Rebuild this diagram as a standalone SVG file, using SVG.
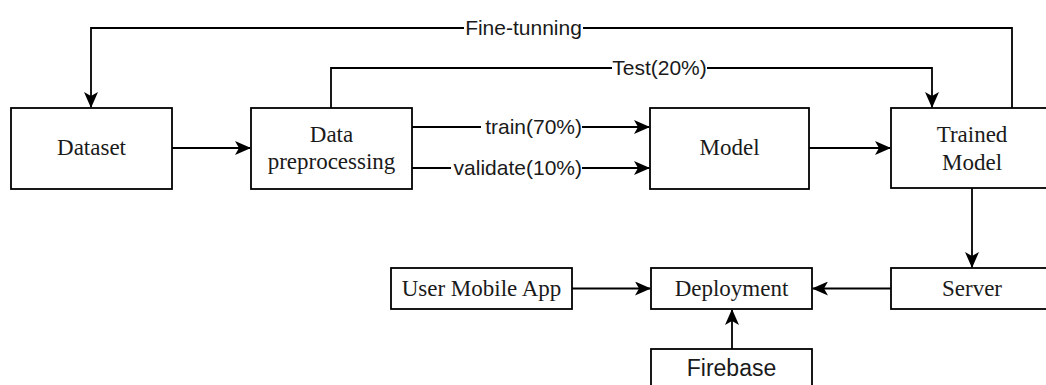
<svg xmlns="http://www.w3.org/2000/svg" width="1046" height="385" viewBox="0 0 1046 385">
<style>
.box{fill:#fff;stroke:#000;stroke-width:1.8}
.t{font-family:"Liberation Serif","Times New Roman",serif;font-size:23px;fill:#1a1a1a;text-anchor:middle}
.s{font-family:"Liberation Sans",Arial,sans-serif;font-size:21px;fill:#1a1a1a}
.c{fill:none;stroke:#000;stroke-width:1.8;marker-end:url(#arr)}
.lbl{fill:#fff}
</style>
<defs>
<marker id="arr" viewBox="0 0 16 14" refX="15" refY="7" markerWidth="16" markerHeight="14" markerUnits="userSpaceOnUse" orient="auto">
<path d="M0,0 L16,7 L0,14 L4,7 Z" fill="#000"/>
</marker>
</defs>
<rect width="1046" height="385" fill="#fff"/>
<g id="connectors">
<path class="c" d="M1012,108 V28 H91 V107"/>
<path class="c" d="M331,108 V68 H932 V107"/>
<path class="c" d="M412,127 H649"/>
<path class="c" d="M412,168 H649"/>
<path class="c" d="M172,148 H250"/>
<path class="c" d="M809,148 H890"/>
<path class="c" d="M972,188 V267"/>
<path class="c" d="M891,288.5 H813"/>
<path class="c" d="M572,288.5 H650"/>
<path class="c" d="M732,349 V310"/>
<rect class="lbl" x="464" y="16" width="119" height="24"/>
<text class="s" x="523.5" y="35" text-anchor="middle">Fine-tunning</text>
<rect class="lbl" x="612" y="56" width="95" height="24"/>
<text class="s" x="659.5" y="75" text-anchor="middle">Test(20%)</text>
<rect class="lbl" x="481" y="115" width="101" height="24"/>
<text class="s" x="582" y="134" text-anchor="end">train(70%)</text>
<rect class="lbl" x="451" y="156" width="131" height="24"/>
<text class="s" x="582" y="175" text-anchor="end">validate(10%)</text>
</g>
<g id="dataset">
<rect class="box" x="11" y="108" width="161" height="81"/>
<text class="t" x="91.5" y="155">Dataset</text>
</g>
<g id="data-preprocessing">
<rect class="box" x="251" y="108" width="161" height="81"/>
<text class="t" x="331.5" y="142">Data</text>
<text class="t" x="331.5" y="169">preprocessing</text>
</g>
<g id="model">
<rect class="box" x="650" y="108" width="159" height="81"/>
<text class="t" x="729.5" y="155">Model</text>
</g>
<g id="trained-model">
<rect class="box" x="891" y="108" width="162" height="80"/>
<text class="t" x="972" y="142">Trained</text>
<text class="t" x="972" y="170">Model</text>
</g>
<g id="server">
<rect class="box" x="891" y="268" width="162" height="41"/>
<text class="t" x="972" y="296">Server</text>
</g>
<g id="deployment">
<rect class="box" x="651" y="268" width="161" height="41"/>
<text class="t" x="731.5" y="296">Deployment</text>
</g>
<g id="user-mobile-app">
<rect class="box" x="391" y="268" width="181" height="41"/>
<text class="t" x="481.5" y="296">User Mobile App</text>
</g>
<g id="firebase">
<rect class="box" x="651" y="349" width="161" height="50"/>
<text class="s" x="731.5" y="376" text-anchor="middle" style="font-size:23px">Firebase</text>
</g>
</svg>
